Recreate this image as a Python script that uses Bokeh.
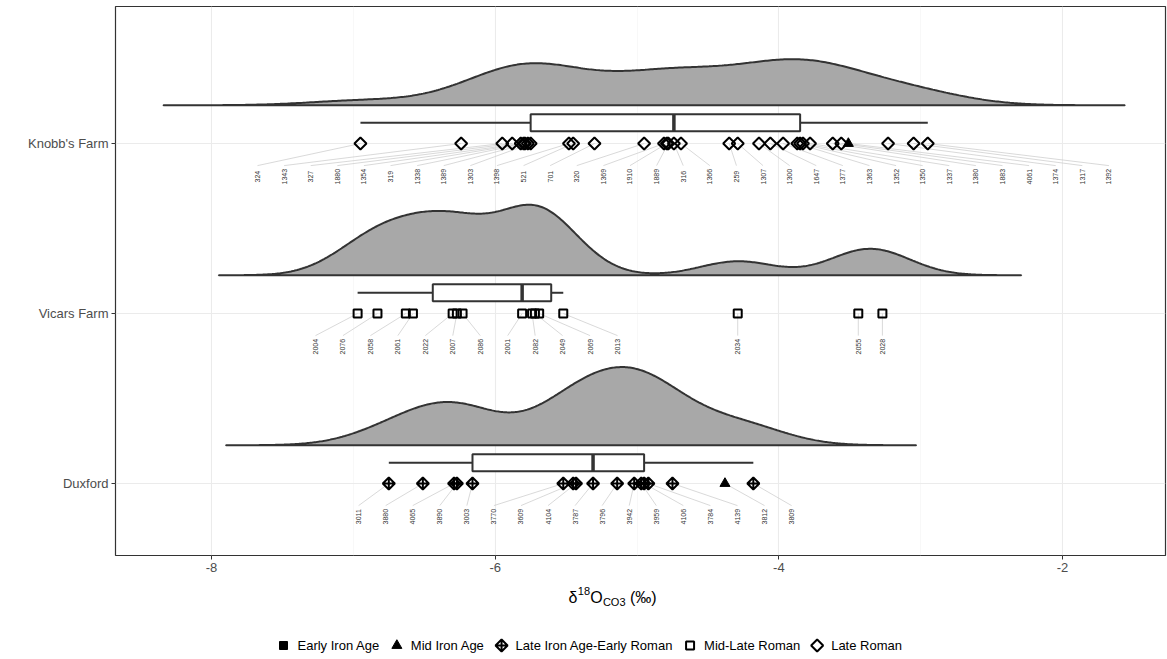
import numpy as np
from bokeh.plotting import figure
from bokeh.layouts import column
from bokeh.models import FixedTicker, Range1d
from bokeh.embed import file_html
from bokeh.resources import INLINE
from bokeh.core.properties import value

# ---------------- data ----------------
site_names = ["Duxford", "Vicars Farm", "Knobb's Farm"]
periods = ["Early Iron Age", "Mid Iron Age", "Late Iron Age-Early Roman",
           "Mid-Late Roman", "Late Roman"]

knobb_d18o = [-6.95, -6.24, -5.95, -5.88, -5.82, -5.80, -5.79, -5.77, -5.75, -5.48, -5.45,
              -5.30, -4.95, -4.81, -4.79, -4.78, -4.74, -4.69, -4.35, -4.29, -4.14, -4.06,
              -3.97, -3.87, -3.85, -3.83, -3.78, -3.62, -3.56, -3.51, -3.23, -3.05, -2.95]
knobb_ids = ["324", "1343", "327", "1880", "1354", "319", "1338", "1389", "1303", "1398",
             "521", "701", "320", "1369", "1910", "1889", "316", "1366", "259", "1307",
             "1300", "1647", "1377", "1363", "1352", "1350", "1337", "1380", "1883",
             "4061", "1374", "1317", "1392"]
knobb_period = ["LR", "LR", "LR", "LR", "LR", "LR", "LR", "LR", "LR", "LR", "LR",
                "LR", "LR", "LR", "LR", "LR", "LR", "LR", "LR", "LR", "LR", "LR",
                "LR", "LR", "LR", "LR", "LR", "LR", "LR", "MIA", "LR", "LR", "LR"]

vicars_d18o = [-6.97, -6.83, -6.63, -6.58, -6.30, -6.27, -6.23, -5.81, -5.74, -5.72,
               -5.69, -5.52, -4.29, -3.44, -3.27]
vicars_ids = ["2004", "2076", "2058", "2061", "2022", "2007", "2086", "2001", "2082",
              "2049", "2069", "2013", "2034", "2055", "2028"]
vicars_period = ["MLR", "MLR", "MLR", "MLR", "MLR", "MLR", "MLR", "MLR", "MLR",
                 "MLR", "MLR", "MLR", "MLR", "MLR", "MLR"]

duxford_d18o = [-6.75, -6.51, -6.29, -6.27, -6.16, -5.52, -5.45, -5.43, -5.31, -5.14,
                -5.02, -4.97, -4.95, -4.92, -4.75, -4.38, -4.18]
duxford_ids = ["3011", "3880", "4065", "3890", "3003", "3770", "3609", "4104", "3787",
               "3796", "3942", "3959", "4106", "3784", "4139", "3812", "3809"]
duxford_period = ["LIAER", "LIAER", "LIAER", "LIAER", "LIAER", "LIAER", "LIAER", "LIAER",
                  "LIAER", "LIAER", "LIAER", "LIAER", "LIAER", "LIAER", "LIAER", "MIA",
                  "LIAER"]

x_ticks = [-8, -6, -4, -2]
x_tick_labels = ["-8", "-6", "-4", "-2"]
x_minor = [-7, -5, -3]

period_code = {"EIA": "Early Iron Age", "MIA": "Mid Iron Age",
               "LIAER": "Late Iron Age-Early Roman", "MLR": "Mid-Late Roman",
               "LR": "Late Roman"}

# ---------------- layout constants ----------------
label_first = {"Knobb's Farm": -7.676, "Vicars Farm": -7.267, "Duxford": -6.963}
label_step = {"Knobb's Farm": 0.1876, "Vicars Farm": 0.1936, "Duxford": 0.1908}
dens_off = 0.225
box_off = 0.122
box_half = 0.05
lab_off = -0.195
seg_end = -0.13
bw_adjust = 0.8
Y0, Y1 = 0.5765, 3.806
LEFT, RIGHT = 115, 2
FW, FH = 1050, 549
TOP, BOTTOM = 6, 30
STRIP_TOP = TOP + FH + BOTTOM
H2 = 659 - STRIP_TOP

groups = [
    ("Duxford", 1, duxford_d18o, duxford_ids, duxford_period),
    ("Vicars Farm", 2, vicars_d18o, vicars_ids, vicars_period),
    ("Knobb's Farm", 3, knobb_d18o, knobb_ids, knobb_period),
]

DARK = "#333333"
FONT = "Liberation Sans"

p = figure(frame_width=FW, frame_height=FH, output_backend="svg", toolbar_location=None,
           x_range=Range1d(-8.677, -1.274), y_range=Range1d(Y0, Y1),
           min_border_left=LEFT, min_border_right=RIGHT, min_border_top=TOP,
           min_border_bottom=BOTTOM)
p.background_fill_color = "white"
p.border_fill_color = "white"
p.outline_line_color = DARK
p.outline_line_width = 1.2

p.xaxis.ticker = FixedTicker(ticks=x_ticks, minor_ticks=x_minor)
p.xaxis.major_label_overrides = dict(zip(x_ticks, x_tick_labels))
p.yaxis.ticker = FixedTicker(ticks=[1, 2, 3])
p.yaxis.major_label_overrides = {1: site_names[0], 2: site_names[1], 3: site_names[2]}
for ax in (p.xaxis, p.yaxis):
    ax.axis_line_color = None
    ax.major_tick_out = 4
    ax.major_tick_in = 0
    ax.major_tick_line_color = DARK
    ax.minor_tick_line_color = None
    ax.major_label_text_color = "#4d4d4d"
    ax.major_label_text_font = FONT
    ax.major_label_text_font_size = "13px"
    ax.major_label_standoff = 3
p.xgrid.grid_line_color = "#ebebeb"
p.xgrid.grid_line_width = 1.1
p.xgrid.minor_grid_line_color = "#f3f3f3"
p.xgrid.minor_grid_line_width = 0.6
p.ygrid.grid_line_color = "#ebebeb"
p.ygrid.grid_line_width = 1.1


def nrd0(v):
    v = np.asarray(v)
    sd = np.std(v, ddof=1)
    q1, q3 = np.quantile(v, [0.25, 0.75])
    lo = min(sd, (q3 - q1) / 1.34)
    return 0.9 * lo * len(v) ** -0.2


dens = {}
gmax = 0
for name, base, vals, ids, per in groups:
    v = np.asarray(vals)
    bw0 = nrd0(v)
    bw = bw0 * bw_adjust
    xs = np.linspace(v.min() - 3 * bw0, v.max() + 3 * bw0, 512)
    d = np.exp(-0.5 * ((xs[:, None] - v[None, :]) / bw) ** 2).sum(axis=1) / (len(v) * bw * np.sqrt(2 * np.pi))
    dens[name] = (xs, d)
    gmax = max(gmax, d.max())

peak_height = 0.46
for name, base, vals, ids, per in groups:
    xs, d = dens[name]
    y0 = base + dens_off
    px = list(xs) + [xs[-1], xs[0]]
    py = list(y0 + d / gmax * peak_height) + [y0, y0]
    p.patch(px, py, fill_color="#a8a8a8", line_color=DARK, line_width=2)

# box plots
for name, base, vals, ids, per in groups:
    v = np.asarray(vals)
    q1, med, q3 = np.quantile(v, [0.25, 0.5, 0.75])
    iqr = q3 - q1
    lo = v[v >= q1 - 1.5 * iqr].min()
    hi = v[v <= q3 + 1.5 * iqr].max()
    yc = base + box_off
    p.segment(x0=[lo, q3], y0=[yc, yc], x1=[q1, hi], y1=[yc, yc], line_color=DARK, line_width=2)
    p.quad(left=[q1], right=[q3], bottom=[yc - box_half], top=[yc + box_half],
           fill_color="white", line_color=DARK, line_width=2)
    p.segment(x0=[med], y0=[yc - box_half], x1=[med], y1=[yc + box_half],
              line_color=DARK, line_width=3.5)

# label connectors and text
for name, base, vals, ids, per in groups:
    n = len(vals)
    labx = [label_first[name] + i * label_step[name] for i in range(n)]
    if name == "Vicars Farm":
        labx = labx[:12] + list(vals[12:])
    p.segment(x0=vals, y0=[base] * n, x1=labx, y1=[base + seg_end] * n,
              line_color="#c9c9c9", line_width=0.7)
    p.text(x=labx, y=[base + lab_off] * n, text=ids, angle=np.pi / 2,
           text_align="center", text_baseline="middle", text_font_size="7px",
           text_color="#333333", text_font=value(FONT))

# points by period
style = {
    "Early Iron Age": dict(marker="square", size=8, fill_color="black", line_color="black", line_width=1, angle=0),
    "Mid Iron Age": dict(marker="triangle", size=10, fill_color="black", line_color="black", line_width=1, angle=0),
    "Late Iron Age-Early Roman": dict(marker="square_x", size=8.5, fill_color=None, line_color="black", line_width=2, angle=np.pi / 4),
    "Mid-Late Roman": dict(marker="square", size=8, fill_color=None, line_color="black", line_width=2, angle=0),
    "Late Roman": dict(marker="square", size=8.5, fill_color=None, line_color="black", line_width=2, angle=np.pi / 4),
}
for per_name in periods:
    xs, ys = [], []
    for name, base, vals, ids, per in groups:
        for v, c in zip(vals, per):
            if period_code[c] == per_name:
                xs.append(v)
                ys.append(base)
    if xs:
        st = style[per_name]
        p.scatter(x=xs, y=ys, marker=st["marker"], size=st["size"], fill_color=st["fill_color"],
                  line_color=st["line_color"], line_width=st["line_width"], angle=st["angle"])

# ---------------- bottom strip: axis title + legend (page-pixel coordinates) ----------------
p2 = figure(width=LEFT + FW + RIGHT, height=H2, output_backend="svg", toolbar_location=None,
            x_range=Range1d(LEFT, LEFT + FW), y_range=Range1d(H2, 0),
            min_border=0, min_border_left=LEFT, min_border_right=RIGHT,
            min_border_top=0, min_border_bottom=0)
p2.axis.visible = False
p2.grid.visible = False
p2.outline_line_color = None
p2.background_fill_color = "white"
p2.border_fill_color = "white"

# axis title  δ^18 O_CO3 (‰)
t0 = 568
pieces = [("δ", 0.0, 597, "16px"), ("18", 9.3, 590, "11px"), ("O", 21.8, 597, "16px"),
          ("CO3", 34.4, 601, "11px"), ("(‰)", 61.5, 597, "16px")]
for txt, off, ypx, fs in pieces:
    p2.text(x=[t0 + off], y=[ypx - STRIP_TOP], text=[txt], text_font=value(FONT),
            text_font_size=fs, text_color="black", text_baseline="alphabetic",
            text_align="left")

# legend (drawn by hand so rotated keys keep their shape)
cw = {"E": .667, "a": .556, "r": .333, "l": .222, "y": .5, " ": .278, "I": .278, "o": .556,
      "n": .556, "A": .667, "g": .556, "e": .556, "M": .833, "i": .222, "d": .556, "t": .278,
      "-": .333, "R": .722, "m": .833, "L": .556}
leg_fs = 13
leg_y = 645 - STRIP_TOP
mx = 283
for per_name in periods:
    st = style[per_name]
    p2.scatter(x=[mx], y=[leg_y], marker=st["marker"], size=st["size"], fill_color=st["fill_color"],
               line_color=st["line_color"], line_width=st["line_width"], angle=st["angle"])
    p2.text(x=[mx + 14], y=[leg_y], text=[per_name], text_font=value(FONT),
            text_font_size=f"{leg_fs}px", text_color="black", text_baseline="middle",
            text_align="left")
    mx = mx + 14 + sum(cw[ch] for ch in per_name) * leg_fs + 17

open("out.html", "w").write(file_html(column(p, p2, spacing=0), INLINE))
